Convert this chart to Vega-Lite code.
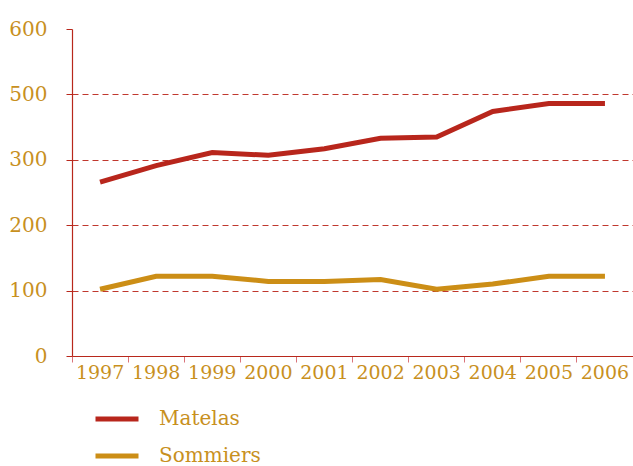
{
  "$schema": "https://vega.github.io/schema/vega-lite/v6.json",
  "autosize": "none",
  "padding": {"left": 72, "top": 29, "right": 0, "bottom": 110},
  "width": 561,
  "height": 327,
  "background": "white",
  "config": {"view": {"stroke": null}, "font": "DejaVu Serif"},
  "data": {
    "values": [
      {"year": "1997", "series": "Matelas", "value": 266},
      {"year": "1998", "series": "Matelas", "value": 291},
      {"year": "1999", "series": "Matelas", "value": 311},
      {"year": "2000", "series": "Matelas", "value": 307},
      {"year": "2001", "series": "Matelas", "value": 317},
      {"year": "2002", "series": "Matelas", "value": 333},
      {"year": "2003", "series": "Matelas", "value": 335},
      {"year": "2004", "series": "Matelas", "value": 374},
      {"year": "2005", "series": "Matelas", "value": 386},
      {"year": "2006", "series": "Matelas", "value": 386},
      {"year": "1997", "series": "Sommiers", "value": 102},
      {"year": "1998", "series": "Sommiers", "value": 122},
      {"year": "1999", "series": "Sommiers", "value": 122},
      {"year": "2000", "series": "Sommiers", "value": 114},
      {"year": "2001", "series": "Sommiers", "value": 114},
      {"year": "2002", "series": "Sommiers", "value": 117},
      {"year": "2003", "series": "Sommiers", "value": 102},
      {"year": "2004", "series": "Sommiers", "value": 110},
      {"year": "2005", "series": "Sommiers", "value": 122},
      {"year": "2006", "series": "Sommiers", "value": 122}
    ]
  },
  "mark": {"type": "line", "strokeWidth": 5, "strokeCap": "butt", "strokeJoin": "miter"},
  "encoding": {
    "x": {
      "field": "year",
      "type": "ordinal",
      "bandPosition": 0.5,
      "scale": {"type": "band", "paddingInner": 0, "paddingOuter": 0},
      "axis": {
        "title": null,
        "labelAngle": 0,
        "bandPosition": 0,
        "domainColor": "#B8281C",
        "domainWidth": 1.2,
        "tickColor": "#D9737A",
        "tickSize": 6,
        "labelFont": "DejaVu Serif",
        "labelFontSize": 19,
        "labelColor": "#C8901E",
        "labelPadding": 1,
        "labelDx": 27,
        "labelAlign": "center",
        "grid": false
      }
    },
    "y": {
      "field": "value",
      "type": "quantitative",
      "scale": {"domain": [0, 500], "nice": false, "zero": true},
      "axis": {
        "title": null,
        "values": [0, 100, 200, 300, 400, 500],
        "labelExpr": "datum.value == 400 ? '500' : datum.value == 500 ? '600' : datum.label",
        "domainColor": "#B8281C",
        "domainWidth": 1.2,
        "tickColor": "#B8281C",
        "tickSize": 6,
        "labelFont": "DejaVu Serif",
        "labelFontSize": 20,
        "labelColor": "#C8901E",
        "labelPadding": 19,
        "labelDy": -5,
        "grid": true,
        "gridColor": "#C0382E",
        "gridDash": [6, 4],
        "gridWidth": 1,
        "gridOpacity": {"condition": {"test": "datum.value == 500 || datum.value == 0", "value": 0}, "value": 1}
      }
    },
    "color": {
      "field": "series",
      "type": "nominal",
      "scale": {"domain": ["Matelas", "Sommiers"], "range": ["#B8261C", "#CC8E16"]},
      "legend": {
        "title": null,
        "orient": "none",
        "legendX": 21,
        "legendY": 366,
        "direction": "vertical",
        "symbolType": "stroke",
        "symbolSize": 1849,
        "symbolStrokeWidth": 5,
        "labelFont": "DejaVu Serif",
        "labelFontSize": 20,
        "labelColor": "#C8901E",
        "labelOffset": 18,
        "rowPadding": 3,
        "padding": 0
      }
    }
  }
}
